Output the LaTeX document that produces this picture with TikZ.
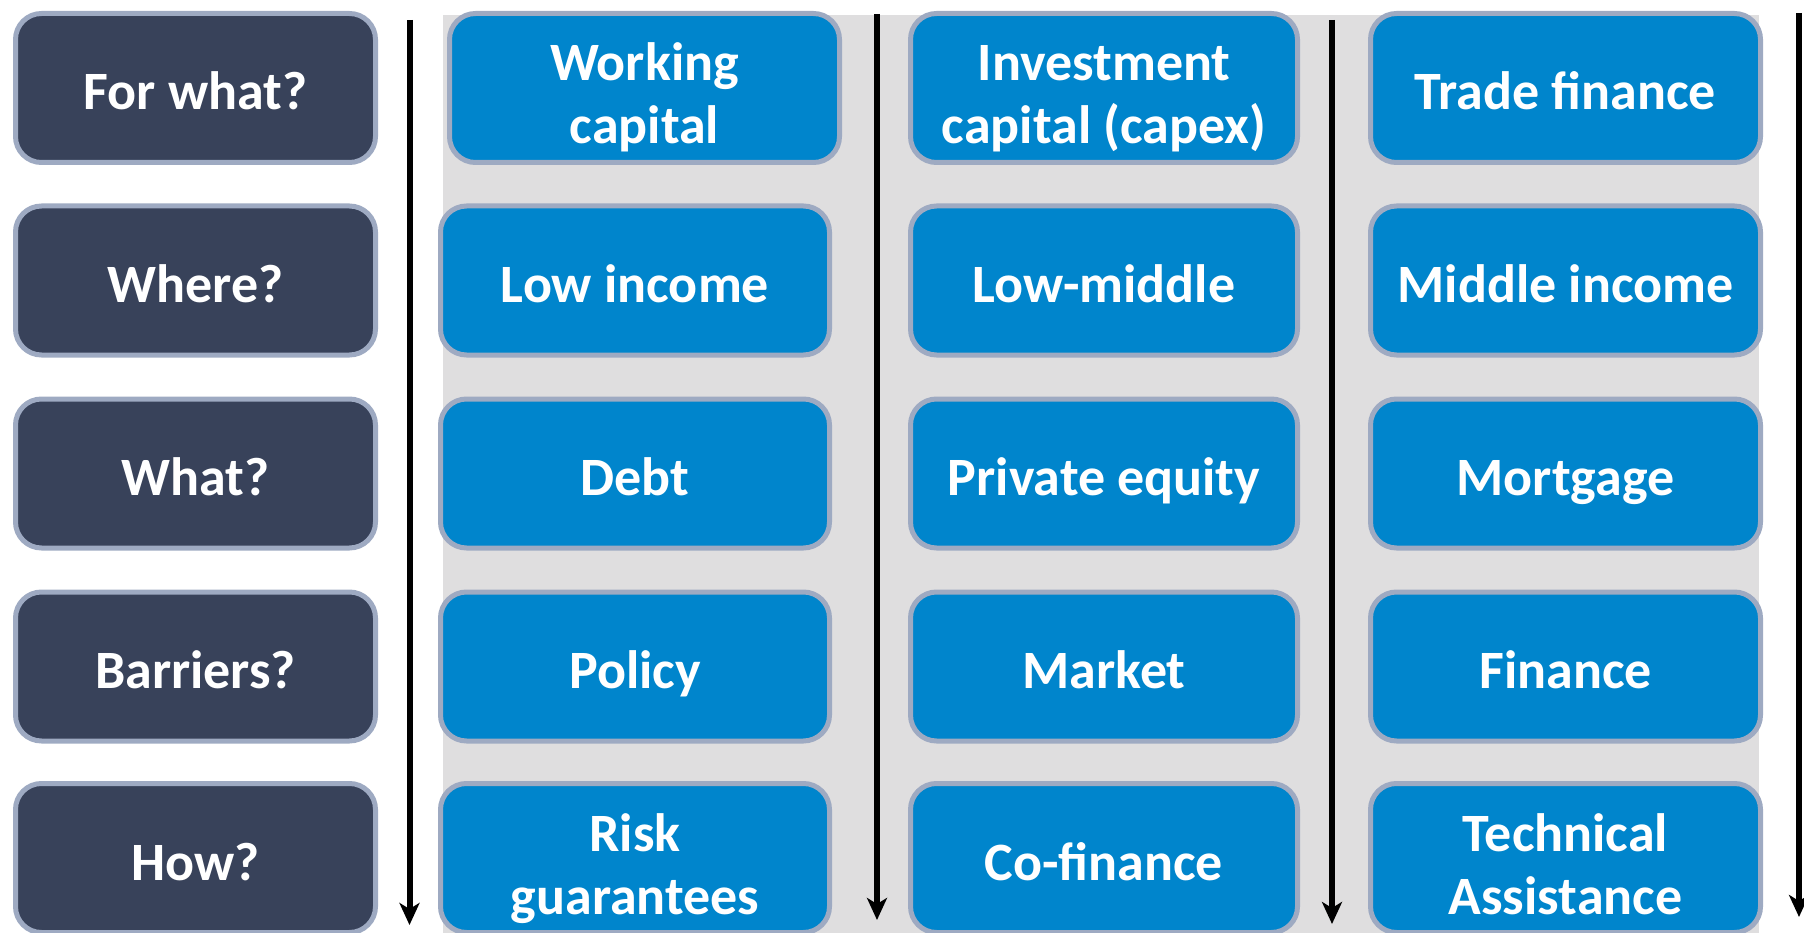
\documentclass[tikz,border=0pt]{standalone}
\usepackage{fontspec}
\setmainfont{Carlito}
\usetikzlibrary{arrows.meta}
\definecolor{darkbox}{RGB}{56,66,90}
\definecolor{bluebox}{RGB}{0,133,204}
\definecolor{boxborder}{RGB}{158,170,194}
\definecolor{panelgray}{RGB}{223,222,223}
\tikzset{
  x=1pt, y=-1pt,
  basebox/.style={draw=boxborder, line width=5pt, rounded corners=26pt,
    text=white, align=center, inner sep=0pt, minimum height=149pt,
    text height=44pt, text depth=0pt,
    font=\bfseries\fontsize{54}{63}\selectfont},
  twoline/.style={text height=112pt, text depth=0pt},
  qbox/.style={basebox, fill=darkbox, minimum width=360pt},
  abox/.style={basebox, fill=bluebox, minimum width=#1},
  flowarrow/.style={line width=6pt, -{Stealth[length=22pt, width=20pt, inset=6pt]}}
}
\begin{document}
\begin{tikzpicture}
\useasboundingbox (0,0) rectangle (1804,933);
\fill[panelgray] (443,15) rectangle (1759,933);
% left question column
\node[qbox] (q1) at (195.5,88) {For what?};
\node[qbox] (q2) at (195.5,280.5) {Where?};
\node[qbox] (q3) at (195.5,473.5) {What?};
\node[qbox] (q4) at (195.5,666.5) {Barriers?};
\node[qbox] (q5) at (195.5,858) {How?};
% column 1
\node[abox=390pt, twoline] (a1) at (644.5,88) {Working\\capital};
\node[abox=389pt] (a2) at (635,280.5) {Low income};
\node[abox=389pt] (a3) at (635,473.5) {Debt};
\node[abox=389pt] (a4) at (635,666.5) {Policy};
\node[abox=389pt, twoline] (a5) at (635,858) {Risk\\guarantees};
% column 2
\node[abox=387pt, twoline] (b1) at (1104,88) {Investment\\capital (capex)};
\node[abox=387pt] (b2) at (1104,280.5) {Low-middle};
\node[abox=387pt] (b3) at (1104,473.5) {Private equity};
\node[abox=387pt] (b4) at (1104,666.5) {Market};
\node[abox=387pt] (b5) at (1104,858) {Co-finance};
% column 3
\node[abox=390pt] (c1) at (1565.5,88) {Trade finance};
\node[abox=390pt] (c2) at (1565.5,280.5) {Middle income};
\node[abox=390pt] (c3) at (1565.5,473.5) {Mortgage};
\node[abox=390pt] (c4) at (1565.5,666.5) {Finance};
\node[abox=390pt, twoline] (c5) at (1565.5,858) {Technical\\Assistance};
% arrows
\coordinate (s1) at (409.5,20);  \coordinate (e1) at (409.5,925);
\coordinate (s2) at (877,14);    \coordinate (e2) at (877,920);
\coordinate (s3) at (1332,20);   \coordinate (e3) at (1332,924);
\coordinate (s4) at (1799,13);   \coordinate (e4) at (1799,917);
\draw[flowarrow] (s1) -- (e1);
\draw[flowarrow] (s2) -- (e2);
\draw[flowarrow] (s3) -- (e3);
\draw[flowarrow] (s4) -- (e4);
\end{tikzpicture}
\end{document}
